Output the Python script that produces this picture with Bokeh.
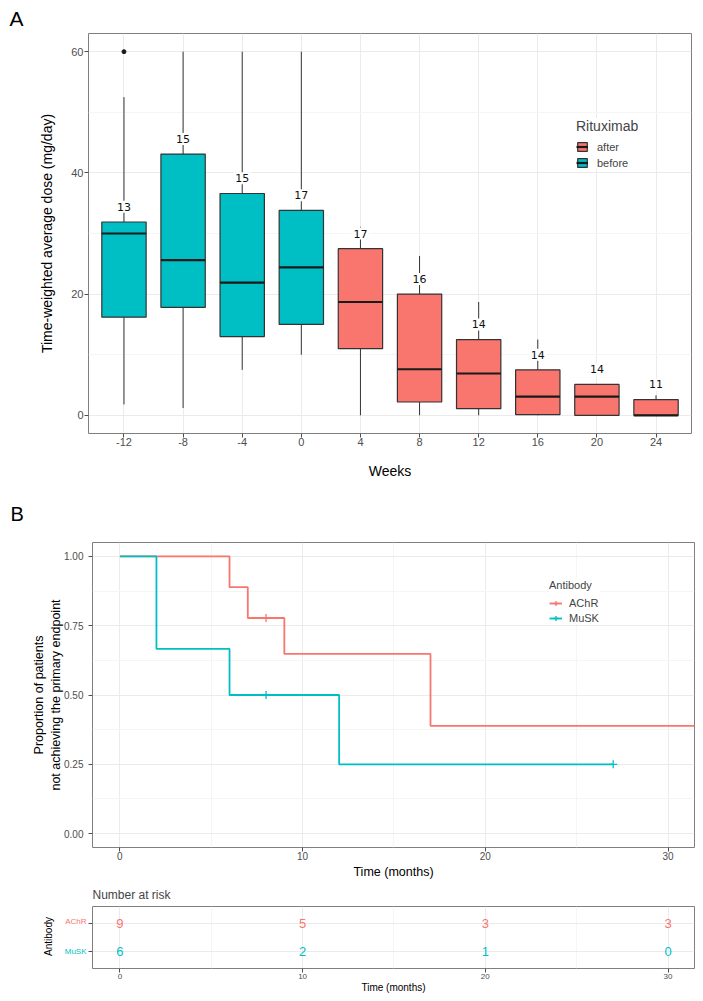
import numpy as np
from bokeh.plotting import figure
from bokeh.models import (Range1d, FixedTicker, ColumnDataSource, Legend, LegendItem,
                          NumeralTickFormatter)
from bokeh.layouts import column, row
from bokeh.embed import file_html
from bokeh.resources import INLINE
from bokeh.core.properties import value

# ---------------- Panel A data (boxplot summary per week) ----------------
weeks = ["-12", "-8", "-4", "0", "4", "8", "12", "16", "20", "24"]
period = ["before", "before", "before", "before", "after", "after", "after", "after", "after", "after"]
n_obs = [13, 15, 15, 17, 17, 16, 14, 14, 14, 11]
whisker_low = [1.8, 1.2, 7.5, 10.0, 0.0, 0.0, 0.0, 0.0, 0.0, 0.0]
q1 = [16.2, 17.8, 13.0, 15.0, 11.0, 2.2, 1.1, 0.1, 0.0, 0.0]
median = [30.0, 25.6, 21.9, 24.4, 18.7, 7.6, 6.9, 3.1, 3.1, 0.0]
q3 = [31.9, 43.1, 36.6, 33.8, 27.5, 20.0, 12.5, 7.5, 5.1, 2.6]
whisker_high = [52.5, 60.0, 60.0, 60.0, 31.1, 26.3, 18.7, 12.5, 5.1, 3.3]
outlier_week = ["-12"]
outlier_value = [60.0]
period_levels = ["after", "before"]
period_colors = ["#F8766D", "#00BFC4"]

# ---------------- Panel B data (Kaplan-Meier) ----------------
groups = ["AChR", "MuSK"]
group_colors = ["#F8766D", "#00BFC4"]
group_n = [9, 6]
event_times = [[6, 7, 9, 17], [2, 6, 12]]
event_counts = [[1, 1, 1, 2], [2, 1, 1]]
censor_times = [[8, 33, 33, 33], [8, 27]]
risk_times = [0, 10, 20, 30]
risk_counts = [[9, 5, 3, 3], [6, 2, 1, 0]]

FONT = "Liberation Sans"
W = 703
GRID = "#EBEBEB"
MINOR = "#F5F5F5"
BORDER = "#7F7F7F"
TICK = "#4D4D4D"


def style(p, tick_size, title_size):
    p.background_fill_color = "white"
    p.border_fill_color = "white"
    p.outline_line_color = BORDER
    p.outline_line_width = 1
    for ax in p.axis:
        ax.axis_line_color = None
        ax.major_tick_line_color = TICK
        ax.major_tick_out = 4
        ax.major_tick_in = 0
        ax.minor_tick_line_color = None
        ax.major_label_text_font = FONT
        ax.major_label_text_color = TICK
        ax.major_label_text_font_size = tick_size
        ax.axis_label_text_font = FONT
        ax.axis_label_text_font_style = "normal"
        ax.axis_label_text_font_size = title_size
        ax.axis_label_text_color = "black"
    for g in p.grid:
        g.grid_line_color = GRID
        g.grid_line_width = 1
        g.minor_grid_line_color = MINOR
        g.minor_grid_line_width = 1


def panel_tag(p, text, size, offset, standoff):
    p.title.text = text
    p.title.text_font = FONT
    p.title.text_font_size = size
    p.title.text_font_style = "normal"
    p.title.text_color = "black"
    p.title.align = "left"
    p.title.offset = offset
    p.title.standoff = standoff


# ================= Panel A =================
pA = figure(width=W, height=482, x_range=Range1d(0.4, 10.6), y_range=Range1d(-3, 63),
            output_backend="svg", toolbar_location=None, frame_align=False,
            min_border_left=88, min_border_right=12, min_border_top=33, min_border_bottom=49)
style(pA, "11px", "14px")
panel_tag(pA, "A", "21px", -79, 8)
pos = list(range(1, len(weeks) + 1))
pA.xaxis.ticker = FixedTicker(ticks=pos)
pA.xaxis.major_label_overrides = {p_: w for p_, w in zip(pos, weeks)}
pA.yaxis.ticker = FixedTicker(ticks=[0, 20, 40, 60], minor_ticks=[10, 30, 50])
pA.xgrid.minor_grid_line_color = None
pA.xaxis.axis_label = "Weeks"
pA.yaxis.axis_label = "Time-weighted average dose (mg/day)"
pA.xaxis.major_label_standoff = 0
pA.xaxis.axis_label_standoff = 14
pA.yaxis.major_label_standoff = 1
pA.yaxis.axis_label_standoff = 13

BW = 0.75
legend_items = []
for lev, col in zip(period_levels, period_colors):
    idx = [i for i, g in enumerate(period) if g == lev]
    src = ColumnDataSource(dict(
        x=[pos[i] for i in idx],
        lo=[whisker_low[i] for i in idx], q1=[q1[i] for i in idx],
        med=[median[i] for i in idx], q3=[q3[i] for i in idx],
        hi=[whisker_high[i] for i in idx],
        x0=[pos[i] - BW / 2 for i in idx], x1=[pos[i] + BW / 2 for i in idx],
    ))
    pA.segment(x0="x", y0="q3", x1="x", y1="hi", source=src, line_color="#333333", line_width=1)
    pA.segment(x0="x", y0="q1", x1="x", y1="lo", source=src, line_color="#333333", line_width=1)
    box = pA.vbar(x="x", width=BW, bottom="q1", top="q3", source=src, fill_color=col,
                  line_color="#333333", line_width=1.2)
    med = pA.segment(x0="x0", y0="med", x1="x1", y1="med", source=src,
                     line_color="#1A1A1A", line_width=2.2)
    legend_items.append(LegendItem(label=lev, renderers=[box, med]))

pA.scatter(x=[pos[weeks.index(w)] for w in outlier_week], y=outlier_value,
           size=4, color="#1A1A1A")

lab_src = ColumnDataSource(dict(x=pos, y=[v + 2.5 for v in q3], t=[str(n) for n in n_obs]))
pA.text(x="x", y="y", text="t", source=lab_src, text_align="center", text_baseline="middle",
        text_font=value("DejaVu Sans"), text_font_size=value("11px"), text_color="#111111",
        background_fill_color="white", padding=2)

legA = Legend(items=legend_items, location=(488, 264), title="Rituximab",
              title_text_font=FONT, title_text_font_size="14px", title_text_font_style="normal",
              title_standoff=6, label_text_font=FONT, label_text_font_size="11px",
              glyph_width=12, glyph_height=11, label_height=13, label_standoff=9,
              spacing=3, padding=4, margin=0, border_line_color=None,
              background_fill_color="white", background_fill_alpha=1)
pA.add_layout(legA)

# ================= Panel B =================
xr = (-1.5, 31.45)
pB = figure(width=W, height=399, x_range=Range1d(*xr), y_range=Range1d(-0.05, 1.05),
            output_backend="svg", toolbar_location=None, frame_align=False,
            min_border_left=92, min_border_right=9, min_border_top=60, min_border_bottom=32)
style(pB, "10px", "12.5px")
panel_tag(pB, "B", "20px", -82, 36)
pB.xaxis.ticker = FixedTicker(ticks=[0, 10, 20, 30], minor_ticks=[5, 15, 25])
pB.yaxis.ticker = FixedTicker(ticks=[0, 0.25, 0.5, 0.75, 1.0],
                              minor_ticks=[0.125, 0.375, 0.625, 0.875])
pB.yaxis.formatter = NumeralTickFormatter(format="0.00")
pB.xaxis.axis_label = "Time (months)"
pB.yaxis.axis_label = "Proportion of patients\nnot achieving the primary endpoint"
pB.xaxis.major_label_standoff = 0
pB.xaxis.axis_label_standoff = 2
pB.yaxis.major_label_standoff = 5
pB.yaxis.axis_label_standoff = -2

itemsB = []
for g, col, n, et, ec, ct in zip(groups, group_colors, group_n, event_times, event_counts, censor_times):
    # Kaplan-Meier estimate from events and censorings
    all_t = sorted(set(et) | set(ct))
    at_risk = n
    s = 1.0
    xs, ys = [0.0], [1.0]
    cx, cy = [], []
    for t in all_t:
        d = ec[et.index(t)] if t in et else 0
        c = ct.count(t)
        if d > 0:
            s = s * (at_risk - d) / at_risk
            xs.append(t)
            ys.append(s)
        if c > 0:
            cx.append(t)
            cy.append(s)
        at_risk -= d + c
    xs.append(max(all_t))
    ys.append(s)
    line = pB.step(x=xs, y=ys, mode="after", line_color=col, line_width=1.8)
    mk = pB.scatter(x=cx, y=cy, marker="cross", size=8, line_color=col, line_width=1.3)
    itemsB.append(LegendItem(label=g, renderers=[line, mk]))

legB = Legend(items=itemsB, location=(457, 223), title="Antibody",
              title_text_font=FONT, title_text_font_size="11px", title_text_font_style="normal",
              title_standoff=6, label_text_font=FONT, label_text_font_size="11px",
              glyph_width=13, glyph_height=12, label_height=12, label_standoff=7,
              spacing=3, padding=4, margin=0, border_line_color=None,
              background_fill_color="white", background_fill_alpha=1)
pB.add_layout(legB)

# ================= Risk table =================
rows = [2, 1]
LW = 88
RH = 116
pL = figure(width=LW, height=RH, x_range=Range1d(0, LW), y_range=Range1d(0.4, 2.6),
            output_backend="svg", toolbar_location=None, x_axis_location=None,
            y_axis_location=None, frame_align=False, min_border_left=0, min_border_right=0,
            min_border_top=23, min_border_bottom=29)
pL.outline_line_color = None
pL.grid.visible = False
pL.background_fill_color = "white"
pL.border_fill_color = "white"
pL.text(x=[LW - 2] * len(rows), y=rows, text=groups, text_color=group_colors,
        text_align="right", text_baseline="middle",
        text_font=value(FONT), text_font_size=value("8px"))
pL.text(x=[48], y=[sum(rows) / len(rows)], text=["Antibody"], angle=np.pi / 2,
        text_align="center", text_baseline="middle", text_color="black",
        text_font=value(FONT), text_font_size=value("10px"))

pR = figure(width=W - LW, height=RH, x_range=Range1d(*xr), y_range=Range1d(0.4, 2.6),
            output_backend="svg", toolbar_location=None, frame_align=False,
            min_border_left=4, min_border_right=9, min_border_top=23, min_border_bottom=29)
style(pR, "8px", "10px")
pR.xaxis.ticker = FixedTicker(ticks=[0, 10, 20, 30], minor_ticks=[5, 15, 25])
pR.yaxis.ticker = FixedTicker(ticks=rows)
pR.yaxis.major_label_overrides = {r: "" for r in rows}
pR.xaxis.axis_label = "Time (months)"
pR.xaxis.major_label_standoff = 1
pR.xaxis.axis_label_standoff = 0
pR.yaxis.major_label_standoff = 0
pR.title.text = "Number at risk"
pR.title.text_font = FONT
pR.title.text_font_size = "12px"
pR.title.text_font_style = "normal"
pR.title.align = "left"
pR.title.standoff = 9

for r, col, counts in zip(rows, group_colors, risk_counts):
    pR.text(x=risk_times, y=[r] * len(risk_times), text=[str(c) for c in counts],
            text_align="center", text_baseline="middle", text_color=col,
            text_font=value(FONT), text_font_size=value("13px"))

layout = column(pA, pB, row(pL, pR, spacing=0), spacing=0)
open("out.html", "w").write(file_html(layout, INLINE))
